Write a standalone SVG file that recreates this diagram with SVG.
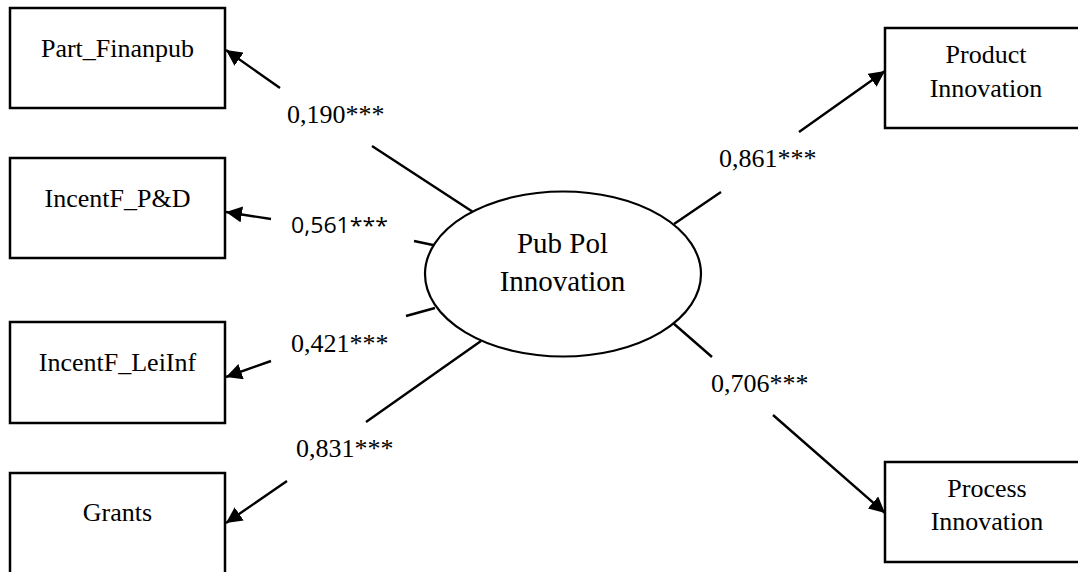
<svg xmlns="http://www.w3.org/2000/svg" width="1078" height="572" viewBox="0 0 1078 572">
<style>
.box{fill:#fff;stroke:#000;stroke-width:2.5}
.ell{fill:#fff;stroke:#000;stroke-width:2.2}
.t{font-family:"Liberation Serif","Times New Roman",serif;font-size:26px;fill:#000;text-anchor:middle}
.te{font-family:"Liberation Serif","Times New Roman",serif;font-size:29px;fill:#000;text-anchor:middle}
.lbl{font-family:"Liberation Serif","Times New Roman",serif;font-size:26px;fill:#000}
.lbls{font-family:"Open Sans","Liberation Sans",sans-serif;font-size:21px;fill:#000}
.con{fill:none;stroke:#000;stroke-width:2.4}
</style>
<defs>
<marker id="arr" markerUnits="userSpaceOnUse" markerWidth="18" markerHeight="16" refX="16" refY="8" orient="auto">
<path d="M0,0 L16,8 L0,16 z" fill="#000"/>
</marker>
</defs>
<rect width="1078" height="572" fill="#fff"/>
<g id="connectors">
<path class="con" d="M473,212 L372,146 M280,88 L226,50" marker-end="url(#arr)"/>
<path class="con" d="M433,245 L414,241 M271,219 L226,212" marker-end="url(#arr)"/>
<path class="con" d="M435,308 L406,316 M271,361 L226,377" marker-end="url(#arr)"/>
<path class="con" d="M481,341 L366,422 M287,481 L226,523" marker-end="url(#arr)"/>
<path class="con" d="M674,224 L721,192 M799,132 L885,71" marker-end="url(#arr)"/>
<path class="con" d="M673,323 L712,357 M773,415 L885,513" marker-end="url(#arr)"/>
</g>
<g id="labels">
<text class="lbl" x="287" y="123">0,190***</text>
<text class="lbls" x="291" y="233" textLength="97" lengthAdjust="spacingAndGlyphs">0,561***</text>
<text class="lbl" x="291" y="352">0,421***</text>
<text class="lbl" x="296" y="457">0,831***</text>
<text class="lbl" x="719" y="167">0,861***</text>
<text class="lbl" x="711" y="392">0,706***</text>
</g>
<g id="node-part-finanpub">
<rect class="box" x="10" y="8" width="215" height="100"/>
<text class="t" x="117.5" y="57">Part_Finanpub</text>
</g>
<g id="node-incentf-pd">
<rect class="box" x="10" y="158" width="215" height="100"/>
<text class="t" x="117.5" y="207">IncentF_P&amp;D</text>
</g>
<g id="node-incentf-leiinf">
<rect class="box" x="10" y="322" width="215" height="101"/>
<text class="t" x="117.5" y="371">IncentF_LeiInf</text>
</g>
<g id="node-grants">
<rect class="box" x="10" y="473" width="215" height="130"/>
<text class="t" x="117.5" y="521">Grants</text>
</g>
<g id="node-pub-pol-innovation">
<ellipse class="ell" cx="563" cy="274" rx="138" ry="82.5"/>
<text class="te" x="562.5" y="253">Pub Pol</text>
<text class="te" x="562.5" y="291">Innovation</text>
</g>
<g id="node-product-innovation">
<rect class="box" x="885" y="28" width="202" height="100"/>
<text class="t" x="986" y="63">Product</text>
<text class="t" x="986" y="97">Innovation</text>
</g>
<g id="node-process-innovation">
<rect class="box" x="885" y="462" width="202" height="100"/>
<text class="t" x="987" y="497">Process</text>
<text class="t" x="987" y="530">Innovation</text>
</g>
</svg>
